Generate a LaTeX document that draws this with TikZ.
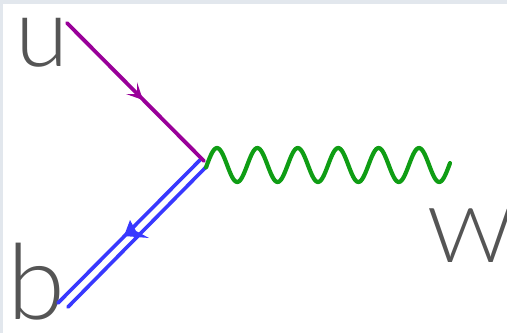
\documentclass[tikz,border=0pt]{standalone}
\usepackage{fontspec}
\setmainfont{Lato}[UprightFont=* Light]
\definecolor{quarkU}{HTML}{990099}
\definecolor{quarkB}{HTML}{3838FF}
\definecolor{boson}{HTML}{0F9D14}
\definecolor{labelgray}{HTML}{555555}
\definecolor{edge}{HTML}{E2E7ED}
\tikzset{
  lbl/.style={text=labelgray,inner sep=0pt,anchor=base west},
  lineU/.style={draw=quarkU,line width=3.8pt,line cap=round},
  lineB/.style={draw=quarkB,line width=3.6pt,line cap=round},
  wave/.style={draw=boson,line width=4.2pt,line cap=round,line join=round}
}
\begin{document}
\begin{tikzpicture}[x=1pt,y=-1pt]
\useasboundingbox (0,0) rectangle (507,333);
\fill[edge] (0,0) rectangle (507,333);
\fill[white] (3,4) rectangle (507,333);
\coordinate (uStart) at (67,23);
\coordinate (vertex) at (204,161);
\coordinate (b1End) at (58,303);
\coordinate (b1Start) at (200,160);
\coordinate (b2End) at (68,307);
\coordinate (b2Start) at (207,166);
\node[lbl,font=\fontsize{97}{97}\selectfont] (u) at (15,66) {u};
\node[lbl,font=\fontsize{105}{105}\selectfont] (b) at (7,319) {b};
\node[lbl,font=\fontsize{76}{76}\selectfont,xscale=1.12] (w) at (427,262) {W};
\draw[lineB] (b1Start) -- (b1End);
\draw[lineB] (b2Start) -- (b2End);
\draw[lineU] (uStart) -- (vertex);
\fill[quarkU] (143,100) -- (137,82) -- (137,94) -- (126,94) -- cycle;
\fill[quarkB] (124,236) -- (130,220) -- (136,231) -- (149,238) -- cycle;
\draw[wave] plot[domain=206:450,samples=200,smooth] (\x,{165-17*cos(8.911*(\x-217))});
\end{tikzpicture}
\end{document}
